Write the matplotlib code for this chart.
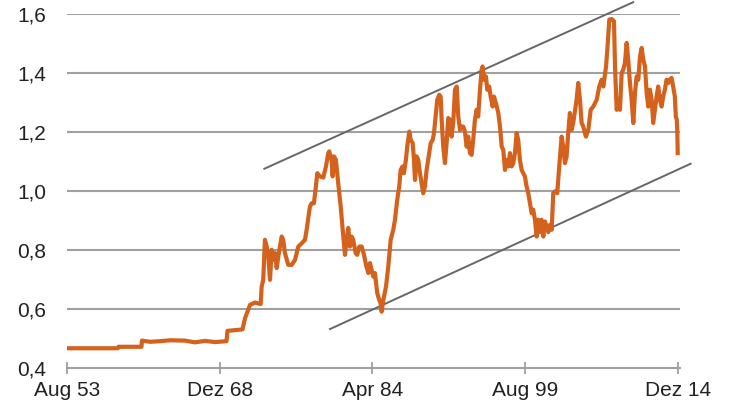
import matplotlib
matplotlib.use('Agg')
import matplotlib.pyplot as plt
from matplotlib.ticker import FuncFormatter

# decimal years and values
years = [1953.58, 1958.70, 1958.75, 1961.06, 1961.11, 1961.92, 1962.92, 1963.92, 1965.43, 1966.43,
         1967.44, 1968.44, 1969.60, 1969.70, 1971.21, 1971.46, 1971.96, 1972.46, 1973.03, 1973.13,
         1973.29, 1973.46, 1973.64, 1973.80, 1973.97, 1974.14, 1974.30, 1974.47, 1974.64, 1974.80,
         1974.97, 1975.14, 1975.30, 1975.47, 1975.80, 1976.15, 1976.48, 1976.81, 1977.15, 1977.48,
         1977.65, 1977.98, 1978.15, 1978.38, 1978.58, 1978.72, 1978.99, 1979.32, 1979.59, 1979.82,
         1979.92, 1980.16, 1980.26, 1980.39, 1980.59, 1980.82, 1981.07, 1981.27, 1981.50, 1981.67,
         1981.83, 1982.00, 1982.17, 1982.33, 1982.57, 1982.73, 1982.94, 1983.18, 1983.41, 1983.61,
         1983.84, 1984.01, 1984.18, 1984.34, 1984.51, 1984.74, 1984.94, 1985.08, 1985.18, 1985.35,
         1985.62, 1985.85, 1986.09, 1986.35, 1986.52, 1986.75, 1986.95, 1987.09, 1987.29, 1987.42,
         1987.62, 1987.75, 1987.96, 1988.10, 1988.30, 1988.43, 1988.53, 1988.70, 1988.86, 1989.03,
         1989.20, 1989.36, 1989.53, 1989.70, 1989.96, 1990.11, 1990.31, 1990.44, 1990.64, 1990.77,
         1990.97, 1991.11, 1991.21, 1991.37, 1991.54, 1991.71, 1991.87, 1992.04, 1992.21, 1992.38,
         1992.55, 1992.72, 1992.88, 1993.05, 1993.22, 1993.38, 1993.55, 1993.72, 1993.88, 1994.05,
         1994.22, 1994.38, 1994.55, 1994.72, 1994.88, 1995.06, 1995.22, 1995.32, 1995.46, 1995.66,
         1995.79, 1995.99, 1996.13, 1996.33, 1996.46, 1996.66, 1996.90, 1997.07, 1997.24, 1997.40,
         1997.57, 1997.74, 1997.90, 1998.07, 1998.24, 1998.40, 1998.57, 1998.74, 1998.90, 1999.07,
         1999.24, 1999.40, 1999.57, 1999.74, 1999.91, 2000.08, 2000.25, 2000.41, 2000.58, 2000.75,
         2000.91, 2001.08, 2001.25, 2001.42, 2001.59, 2001.92, 2002.09, 2002.26, 2002.42, 2002.59,
         2002.82, 2003.02, 2003.26, 2003.42, 2003.59, 2003.76, 2003.92, 2004.09, 2004.26, 2004.42,
         2004.76, 2004.93, 2005.10, 2005.27, 2005.43, 2005.70, 2005.94, 2006.18, 2006.44, 2006.78,
         2007.04, 2007.28, 2007.45, 2007.72, 2007.85, 2008.05, 2008.29, 2008.52, 2008.62, 2008.79,
         2008.95, 2009.12, 2009.29, 2009.45, 2009.62, 2009.79, 2009.95, 2010.12, 2010.29, 2010.46,
         2010.63, 2010.79, 2010.96, 2011.13, 2011.30, 2011.46, 2011.63, 2011.80, 2011.96, 2012.13,
         2012.30, 2012.46, 2012.63, 2012.80, 2012.96, 2013.13, 2013.30, 2013.46, 2013.63, 2013.80,
         2013.96, 2014.13, 2014.30, 2014.46, 2014.63, 2014.73, 2014.83, 2014.88, 2014.92]
values = [0.466, 0.466, 0.471, 0.471, 0.492, 0.488, 0.490, 0.493, 0.492, 0.486,
          0.491, 0.487, 0.490, 0.525, 0.530, 0.568, 0.613, 0.621, 0.616, 0.675,
          0.698, 0.834, 0.811, 0.777, 0.698, 0.800, 0.766, 0.789, 0.738, 0.777,
          0.811, 0.845, 0.834, 0.789, 0.749, 0.749, 0.766, 0.811, 0.822, 0.834,
          0.868, 0.947, 0.958, 0.958, 1.015, 1.060, 1.049, 1.045, 1.083, 1.128,
          1.134, 1.105, 1.049, 1.117, 1.105, 1.026, 0.947, 0.868, 0.783, 0.834,
          0.874, 0.811, 0.845, 0.834, 0.789, 0.783, 0.811, 0.811, 0.783, 0.749,
          0.721, 0.755, 0.732, 0.709, 0.721, 0.653, 0.630, 0.619, 0.590, 0.630,
          0.675, 0.743, 0.834, 0.868, 0.902, 0.970, 1.015, 1.071, 1.083, 1.060,
          1.105, 1.150, 1.201, 1.173, 1.162, 1.105, 1.037, 1.117, 1.105, 1.060,
          1.026, 0.992, 1.015, 1.071, 1.128, 1.162, 1.173, 1.196, 1.264, 1.309,
          1.326, 1.320, 1.241, 1.150, 1.094, 1.162, 1.247, 1.241, 1.184, 1.235,
          1.343, 1.354, 1.252, 1.207, 1.218, 1.218, 1.201, 1.150, 1.184, 1.128,
          1.122, 1.173, 1.241, 1.275, 1.252, 1.343, 1.411, 1.422, 1.377, 1.388,
          1.343, 1.354, 1.320, 1.286, 1.320, 1.298, 1.264, 1.218, 1.150, 1.139,
          1.071, 1.105, 1.083, 1.128, 1.083, 1.094, 1.128, 1.196, 1.173, 1.105,
          1.071, 1.060, 1.049, 1.015, 0.992, 0.958, 0.924, 0.936, 0.902, 0.845,
          0.902, 0.860, 0.902, 0.845, 0.896, 0.860, 0.885, 0.868, 0.992, 0.998,
          0.992, 1.083, 1.184, 1.150, 1.094, 1.117, 1.196, 1.264, 1.207, 1.230,
          1.309, 1.366, 1.309, 1.230, 1.218, 1.184, 1.207, 1.275, 1.286, 1.309,
          1.354, 1.377, 1.354, 1.422, 1.479, 1.581, 1.583, 1.575, 1.422, 1.275,
          1.309, 1.275, 1.400, 1.411, 1.434, 1.502, 1.445, 1.366, 1.309, 1.230,
          1.332, 1.388, 1.377, 1.456, 1.485, 1.445, 1.422, 1.332, 1.286, 1.343,
          1.309, 1.230, 1.275, 1.320, 1.354, 1.309, 1.286, 1.320, 1.343, 1.377,
          1.366, 1.377, 1.383, 1.354, 1.320, 1.252, 1.241, 1.196, 1.128]

# trend channel (start / end points)
upper_x = [1973.40, 2010.45]
upper_y = [1.075, 1.640]
lower_x = [1979.99, 2016.22]
lower_y = [0.531, 1.092]

tick_pos = [1953.58, 1968.92, 1984.25, 1999.58, 2014.92]
tick_labels = ['Aug 53', 'Dez 68', 'Apr 84', 'Aug 99', 'Dez 14']
y_ticks = [0.4, 0.6, 0.8, 1.0, 1.2, 1.4, 1.6]

plt.rcParams['font.family'] = ['Liberation Sans', 'DejaVu Sans']

fig = plt.figure(figsize=(7.29, 4.2), dpi=100)
ax = fig.add_axes([0.0919, 0.1245, 0.8409, 0.8422])

for y in y_ticks[1:]:
    ax.axhline(y, color='#a0a0a0', lw=1.5, zorder=1)

ax.plot(upper_x, upper_y, color='#666666', lw=1.4, clip_on=False, zorder=2)
ax.plot(lower_x, lower_y, color='#666666', lw=1.4, clip_on=False, zorder=2)
ax.plot(years, values, color='#d4611c', lw=3.0, solid_joinstyle='round', zorder=3)

ax.set_xlim(1953.58, 2015.15)
ax.set_ylim(0.4, 1.6)
ax.set_yticks(y_ticks)
ax.yaxis.set_major_formatter(FuncFormatter(lambda v, p: f'{v:.1f}'.replace('.', ',')))
ax.set_xticks(tick_pos)
ax.set_xticklabels(tick_labels)

for s in ['top', 'right', 'left']:
    ax.spines[s].set_visible(False)
ax.spines['bottom'].set_color('#a0a0a0')
ax.spines['bottom'].set_linewidth(1.5)

ax.tick_params(axis='y', length=0, pad=15, labelsize=15, labelcolor='#222222')
ax.tick_params(axis='x', direction='inout', length=9, width=1.3, color='#a0a0a0',
               pad=5, labelsize=15, labelcolor='#222222')

fig.savefig('out.png', dpi=100)
